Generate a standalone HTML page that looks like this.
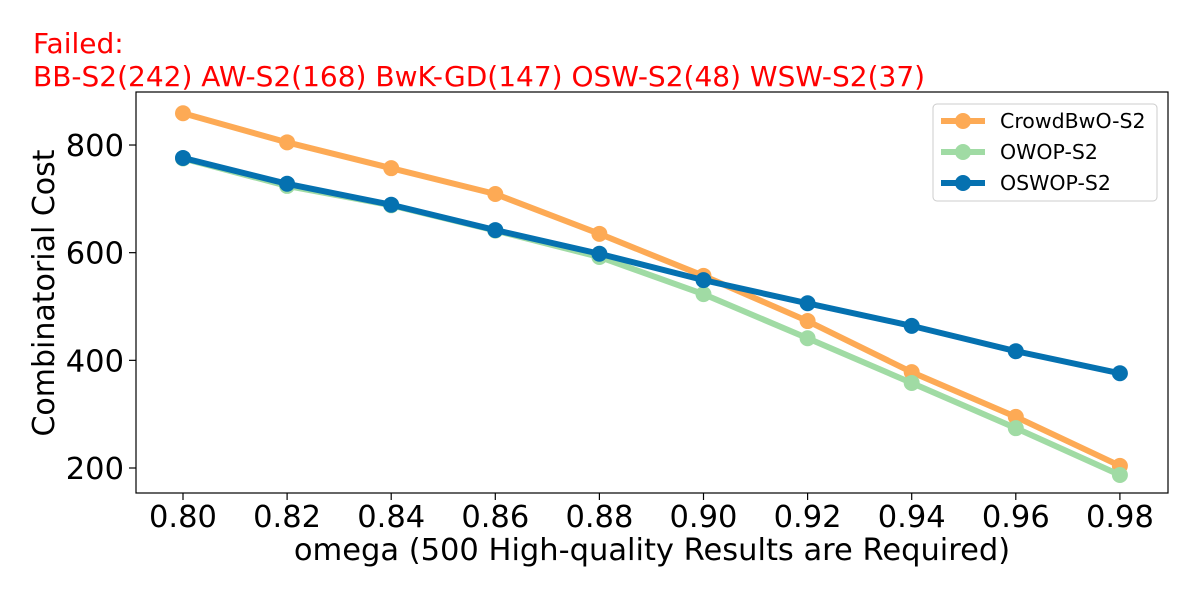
<!DOCTYPE html>
<html><head><meta charset="utf-8"><style>
body{margin:0;background:#fff;}
text{font-family:"DejaVu Sans","Liberation Sans",sans-serif;}
</style></head><body>
<svg id="chart" width="1200" height="600" viewBox="0 0 1200 600">
<text x="33" y="53" font-size="28" fill="#ff0000">Failed:</text>
<text x="33" y="86" font-size="28" fill="#ff0000">BB-S2(242) AW-S2(168) BwK-GD(147) OSW-S2(48) WSW-S2(37)</text>
<g id="axes"></g>
<g id="series"></g>
<rect x="136" y="92" width="1032" height="401" fill="none" stroke="#000" stroke-width="1.2"/>
<text x="652" y="560" font-size="30.5" text-anchor="middle">omega (500 High-quality Results are Required)</text>
<text transform="translate(54,293) rotate(-90)" font-size="30" text-anchor="middle">Combinatorial Cost</text>
<g>
<rect x="933" y="104" width="224" height="97" rx="4" fill="#fff" stroke="#ccc"/>
</g>
</svg>
<script>
const categories=[0.80,0.82,0.84,0.86,0.88,0.90,0.92,0.94,0.96,0.98];
const crowdbwo=[859,805,757,709,635,557,473,378,295,204];
const owop=[775,724,688,641,592,523,441,358,274,187];
const oswop=[776,728,689,642,598,549,506,464,417,376];
const yTicks=[200,400,600,800];
const names=["CrowdBwO-S2","OWOP-S2","OSWOP-S2"];
const colors=["#fdaa55","#a0dba4","#0571b0"];
const NS="http://www.w3.org/2000/svg";
const svg=document.getElementById('chart');
const X=v=>183+(v-0.80)/0.02*104.1;
const Y=v=>468-(v-200)*0.5383;
function mk(t,a,p){const e=document.createElementNS(NS,t);for(const k in a)e.setAttribute(k,a[k]);(p||svg).appendChild(e);return e;}
const ax=document.getElementById('axes');
categories.forEach(c=>{
 const l=mk('line',{x1:X(c),x2:X(c),y1:493,y2:500,stroke:'#000','stroke-width':1.2},ax);
 
 
 const t=mk('text',{x:X(c),y:527,'font-size':30.5,'text-anchor':'middle'},ax);t.textContent=c.toFixed(2);
 
 
});
yTicks.forEach(v=>{
 const l=mk('line',{x1:129,x2:136,y1:Y(v),y2:Y(v),stroke:'#000','stroke-width':1.2},ax);
 
 
 const t=mk('text',{x:124,y:Y(v)+11,'font-size':30.5,'text-anchor':'end'},ax);t.textContent=v;
 
 
});
const sg=document.getElementById('series');
[crowdbwo,owop,oswop].forEach((d,i)=>{
 const g=mk('g',{},sg);
 
 
 mk('polyline',{points:d.map((v,j)=>X(categories[j])+','+Y(v)).join(' '),fill:'none',stroke:colors[i],'stroke-width':6},g);
 d.forEach((v,j)=>{const c=mk('circle',{cx:X(categories[j]),cy:Y(v),r:8,fill:colors[i]},g);
  
  });
 const ly=121+i*31;
 const lg=mk('g',{},svg);
 
 
 mk('line',{x1:941,x2:985,y1:ly,y2:ly,stroke:colors[i],'stroke-width':6},lg);
 mk('circle',{cx:963,cy:ly,r:8,fill:colors[i]},lg);
 const t=mk('text',{x:1000,y:ly+7,'font-size':20.5},lg);t.textContent=names[i];
});
</script>
</body></html>
